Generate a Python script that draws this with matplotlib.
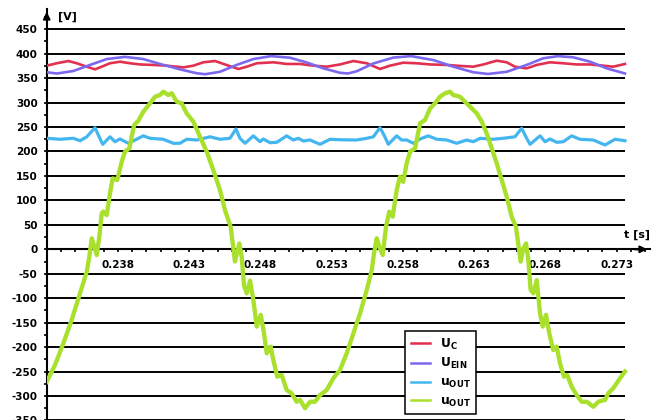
import matplotlib
matplotlib.use('Agg')
import matplotlib.pyplot as plt
from matplotlib.ticker import MultipleLocator

plt.rcParams['font.family'] = ['DejaVu Sans']
plt.rcParams['font.weight'] = 'bold'
plt.rcParams['mathtext.fontset'] = 'dejavusans'
plt.rcParams['mathtext.default'] = 'bf'

# U_C (red)
t_uc = [0.23300, 0.23370, 0.23452, 0.23511, 0.23581, 0.23639, 0.23686, 0.23744,
        0.23814, 0.23885, 0.23955, 0.24048, 0.24142, 0.24259, 0.24329, 0.24399,
        0.24481, 0.24551, 0.24645, 0.24704, 0.24774, 0.24890, 0.24984, 0.25078,
        0.25171, 0.25265, 0.25358, 0.25452, 0.25546, 0.25639, 0.25709, 0.25802,
        0.25897, 0.25990, 0.26107, 0.26200, 0.26294, 0.26364, 0.26458, 0.26528,
        0.26586, 0.26668, 0.26739, 0.26832, 0.26925, 0.27019, 0.27113, 0.27206,
        0.27276, 0.27358]
u_c = [375.5, 380.4, 385.0, 380.4, 373.4, 368.0, 373.4, 380.4,
       383.6, 380.4, 378.0, 377.0, 375.5, 372.0, 375.5, 382.4,
       385.0, 378.0, 368.7, 373.4, 380.4, 382.4, 379.0, 379.0,
       375.5, 373.4, 378.0, 385.0, 380.4, 368.7, 375.5, 381.6,
       380.4, 378.0, 377.0, 375.0, 373.4, 378.0, 385.7, 382.4,
       373.4, 370.0, 377.0, 382.4, 380.4, 378.0, 378.0, 375.5,
       373.4, 379.0]

# U_EIN (purple)
t_uein = [0.23300, 0.23372, 0.23487, 0.23604, 0.23721, 0.23849, 0.23978, 0.24095,
          0.24235, 0.24353, 0.24411, 0.24516, 0.24633, 0.24750, 0.24874, 0.25007,
          0.25125, 0.25241, 0.25358, 0.25414, 0.25475, 0.25592, 0.25732, 0.25857,
          0.26013, 0.26153, 0.26294, 0.26397, 0.26528, 0.26668, 0.26785, 0.26888,
          0.26995, 0.27113, 0.27230, 0.27358]
u_ein = [362.0, 359.5, 364.6, 377.0, 389.0, 393.5, 389.0, 379.0,
         368.0, 360.0, 358.0, 363.0, 377.0, 389.0, 395.0, 391.8,
         382.0, 370.0, 361.0, 359.5, 364.0, 380.0, 392.0, 395.0,
         387.0, 373.4, 362.0, 358.5, 363.0, 377.0, 390.6, 395.0,
         392.6, 383.6, 370.0, 359.5]

# u_OUT (blue)
t_uout_b = [0.23300, 0.23393, 0.23487, 0.23534, 0.23581, 0.23639, 0.23662, 0.23693,
            0.23744, 0.23779, 0.23814, 0.23873, 0.23920, 0.23978, 0.24025, 0.24118,
            0.24188, 0.24235, 0.24282, 0.24353, 0.24446, 0.24516, 0.24586, 0.24628,
            0.24656, 0.24692, 0.24750, 0.24797, 0.24820, 0.24867, 0.24914, 0.24984,
            0.25031, 0.25066, 0.25101, 0.25148, 0.25218, 0.25288, 0.25358, 0.25475,
            0.25546, 0.25592, 0.25639, 0.25667, 0.25697, 0.25756, 0.25791, 0.25826,
            0.25873, 0.25920, 0.25978, 0.26037, 0.26107, 0.26177, 0.26247, 0.26294,
            0.26341, 0.26434, 0.26504, 0.26586, 0.26633, 0.26668, 0.26692, 0.26762,
            0.26797, 0.26832, 0.26879, 0.26925, 0.26984, 0.27042, 0.27136, 0.27218,
            0.27288, 0.27358]
u_out_b = [227.0, 225.0, 227.0, 222.0, 230.0, 248.7, 233.7, 214.7,
           230.0, 220.0, 225.6, 216.8, 223.5, 232.0, 227.0, 225.0,
           216.8, 216.8, 225.0, 223.5, 230.0, 225.0, 227.0, 246.0,
           227.0, 216.8, 232.0, 220.0, 225.6, 218.0, 218.8, 232.0,
           223.5, 227.0, 221.5, 223.5, 214.7, 225.0, 224.0, 223.5,
           227.0, 230.0, 248.7, 233.7, 214.7, 232.0, 223.5, 223.5,
           216.8, 225.6, 232.0, 225.0, 223.5, 216.8, 223.5, 220.0,
           227.0, 225.0, 227.0, 230.0, 247.4, 227.0, 214.7, 232.0,
           220.0, 225.6, 218.8, 220.0, 232.0, 225.0, 223.5, 213.3,
           225.0, 222.0]

# u_OUT (green)
t_uout_g = [0.23300, 0.23358, 0.23417, 0.23475, 0.23534, 0.23581, 0.23599, 0.23616,
            0.23651, 0.23669, 0.23686, 0.23697, 0.23721, 0.23744, 0.23763, 0.23795,
            0.23826, 0.23849, 0.23880, 0.23913, 0.23943, 0.23978, 0.24025, 0.24060,
            0.24095, 0.24118, 0.24153, 0.24177, 0.24212, 0.24247, 0.24282, 0.24329,
            0.24376, 0.24423, 0.24469, 0.24516, 0.24551, 0.24591, 0.24605, 0.24621,
            0.24652, 0.24668, 0.24685, 0.24704, 0.24727, 0.24750, 0.24774, 0.24802,
            0.24825, 0.24844, 0.24872, 0.24890, 0.24918, 0.24949, 0.24984, 0.25019,
            0.25054, 0.25078, 0.25113, 0.25148, 0.25183, 0.25218, 0.25265, 0.25311,
            0.25358, 0.25405, 0.25452, 0.25499, 0.25546, 0.25581, 0.25597, 0.25616,
            0.25634, 0.25658, 0.25681, 0.25704, 0.25728, 0.25756, 0.25779, 0.25802,
            0.25826, 0.25850, 0.25885, 0.25920, 0.25955, 0.25990, 0.26025, 0.26060,
            0.26095, 0.26130, 0.26153, 0.26200, 0.26235, 0.26271, 0.26318, 0.26353,
            0.26388, 0.26423, 0.26458, 0.26493, 0.26528, 0.26563, 0.26593, 0.26609,
            0.26626, 0.26645, 0.26664, 0.26680, 0.26696, 0.26715, 0.26739, 0.26762,
            0.26781, 0.26804, 0.26827, 0.26855, 0.26879, 0.26902, 0.26930, 0.26953,
            0.26984, 0.27019, 0.27054, 0.27090, 0.27136, 0.27171, 0.27218, 0.27241,
            0.27276, 0.27323, 0.27358]
u_out_g = [-270.8, -236.6, -192.0, -144.6, -90.0, -45.8, -15.0, 22.5,
           -11.7, 25.8, 73.6, 77.0, 70.0, 114.5, 145.0, 141.7,
           179.0, 199.6, 206.5, 254.0, 263.0, 281.4, 298.6, 312.0,
           315.5, 322.3, 315.5, 319.0, 302.0, 298.6, 278.0, 261.0,
           230.0, 199.6, 162.0, 121.0, 80.0, 46.0, 12.0, -25.0,
           12.0, -15.0, -75.0, -90.0, -64.0, -103.7, -158.0, -134.0,
           -171.8, -212.7, -199.0, -226.0, -260.5, -257.0, -287.7, -294.5,
           -311.7, -308.0, -325.0, -311.7, -311.7, -298.0, -287.7, -263.8,
           -246.8, -212.7, -171.8, -131.0, -83.0, -42.3, -8.0, 22.5,
           5.0, -11.7, 46.0, 77.0, 66.7, 121.0, 148.5, 138.0,
           176.0, 199.6, 206.5, 257.7, 264.4, 288.0, 298.6, 312.0,
           319.0, 322.3, 315.5, 312.0, 302.0, 291.6, 278.0, 261.0,
           237.0, 206.5, 176.0, 141.7, 107.6, 66.7, 46.0, 12.0,
           -25.0, 2.0, 12.0, -22.0, -83.0, -90.0, -63.0, -131.0,
           -158.0, -134.0, -172.0, -206.0, -199.0, -233.0, -260.5, -257.0,
           -281.0, -298.0, -311.7, -311.7, -322.0, -311.7, -308.0, -294.5,
           -284.0, -263.8, -250.0]

grid_levels = list(range(-350, 451, 50))
y_ticks = list(range(-350, 451, 50))
x_ticks = [0.238, 0.243, 0.248, 0.253, 0.258, 0.263, 0.268, 0.273]
t_start = 0.233
t_stop = 0.27358

fig = plt.figure(figsize=(6.6, 4.2), dpi=100)
ax = fig.add_axes([0.0708, -0.0186, 0.9141, 0.9972])
ax.set_xlim(t_start, 0.27534)
ax.set_ylim(-365, 491.4)

ax.hlines([g for g in grid_levels if g != 0], t_start, t_stop,
          colors='black', linewidth=1.4, zorder=1)

ax.plot(t_uc, u_c, color='#e2304f', lw=1.9, label=r'$U_{C}$', zorder=3)
ax.plot(t_uein, u_ein, color='#7c68ef', lw=1.9, label=r'$U_{EIN}$', zorder=3)
ax.plot(t_uout_b, u_out_b, color='#43b6f0', lw=2.3, label=r'$u_{OUT}$', zorder=3,
        solid_joinstyle='round')
ax.plot(t_uout_g, u_out_g, color='#a8e02c', lw=3.1, label=r'$u_{OUT}$', zorder=4,
        solid_joinstyle='round')

for side in ['top', 'right']:
    ax.spines[side].set_visible(False)
ax.spines['bottom'].set_position(('data', 0))
ax.spines['bottom'].set_linewidth(1.5)
ax.spines['left'].set_linewidth(1.5)
ax.spines['bottom'].set_zorder(2)

ax.annotate('', xy=(0, 1), xytext=(0, 0.97), xycoords='axes fraction',
            arrowprops=dict(arrowstyle='-|>', color='black', lw=1.5, mutation_scale=10))
ax.annotate('', xy=(1, 0), xytext=(0.97, 0), xycoords=('axes fraction', 'data'),
            arrowprops=dict(arrowstyle='-|>', color='black', lw=1.5, mutation_scale=10))

ax.set_yticks(y_ticks)
ax.set_yticklabels([str(v) for v in y_ticks])
ax.yaxis.set_minor_locator(MultipleLocator(25))
ax.set_xticks(x_ticks)
ax.set_xticklabels(['%.3f' % v for v in x_ticks])
ax.xaxis.set_minor_locator(MultipleLocator(0.001))
ax.tick_params(axis='y', which='major', length=2.5, width=1.2, pad=4, labelsize=7.5)
ax.tick_params(axis='y', which='minor', length=2, width=1.2)
ax.tick_params(axis='x', which='major', length=2, width=1.2, pad=6, labelsize=7.5)
ax.tick_params(axis='x', which='minor', length=2, width=1.2)

fig.text(58 / 660, 1 - 17 / 420, '[V]', ha='left', va='center', fontsize=8)
fig.text(650 / 660, 1 - 235 / 420, 't [s]', ha='right', va='center', fontsize=8)

leg = ax.legend(loc='upper left', bbox_to_anchor=(405 / 660, 1 - 331 / 420),
                bbox_transform=fig.transFigure, borderaxespad=0, fontsize=8.8,
                frameon=True, fancybox=False, framealpha=1, edgecolor='black',
                handlelength=1.6, handletextpad=0.8, labelspacing=0.38, borderpad=0.45)
leg.get_frame().set_linewidth(1.1)
for line in leg.get_lines():
    line.set_linewidth(1.8)

fig.savefig('out.png', dpi=100)
